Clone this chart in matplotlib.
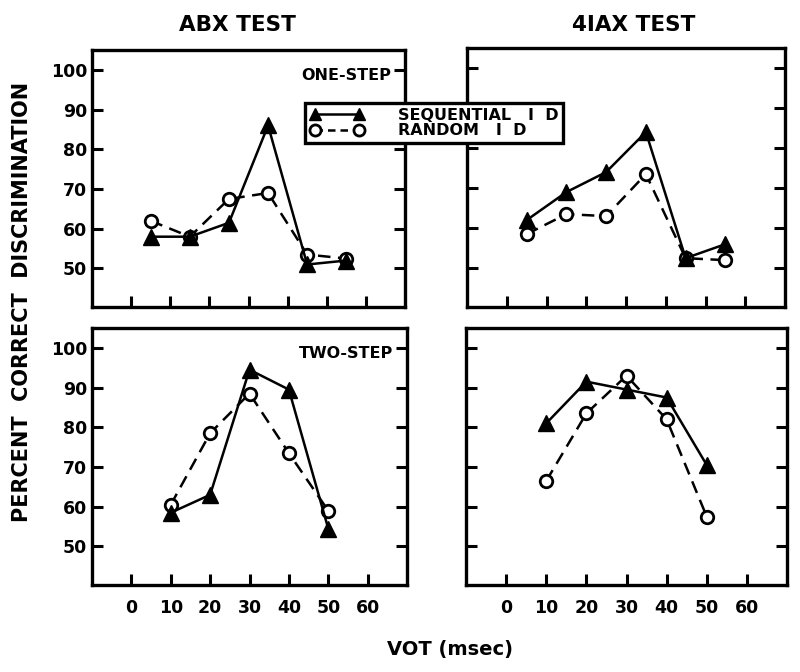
import matplotlib
matplotlib.use("Agg")
import matplotlib.pyplot as plt
from matplotlib.lines import Line2D

# ---- data ----
vot_one = [5, 15, 25, 35, 45, 55]
vot_two = [10, 20, 30, 40, 50]

abx_one_seq = [58, 58, 61.5, 86, 51, 52]
abx_one_rand = [62, 58, 67.5, 69, 53.5, 52.5]
iax_one_seq = [62, 69, 74, 84, 52.5, 56]
iax_one_rand = [58.5, 63.5, 63, 73.5, 52.5, 52]

abx_two_seq = [58.5, 63, 94.5, 89.5, 54.5]
abx_two_rand = [60.5, 78.5, 88.5, 73.5, 59]
iax_two_seq = [81, 91.5, 89.5, 87.5, 70.5]
iax_two_rand = [66.5, 83.5, 93, 82, 57.5]

x_ticks = [0, 10, 20, 30, 40, 50, 60]
y_ticks = [50, 60, 70, 80, 90, 100]
col_titles = ["ABX TEST", "4IAX TEST"]
row_labels = ["ONE-STEP", "TWO-STEP"]
legend_labels = ["SEQUENTIAL   I  D", "RANDOM   I  D"]

plt.rcParams['font.family'] = ['DejaVu Sans']
plt.rcParams['font.weight'] = 'bold'

fig = plt.figure(figsize=(8, 6.72), dpi=100)
W, H = 800.0, 672.0

def box(l, r, t, b):
    return [l / W, 1 - b / H, (r - l) / W, (b - t) / H]

axes = {
    (0, 0): fig.add_axes(box(92, 405, 50, 307)),
    (0, 1): fig.add_axes(box(467, 785, 48, 307)),
    (1, 0): fig.add_axes(box(92, 407, 328, 585)),
    (1, 1): fig.add_axes(box(466, 787, 328, 585)),
}

data = {
    (0, 0): (vot_one, abx_one_seq, abx_one_rand),
    (0, 1): (vot_one, iax_one_seq, iax_one_rand),
    (1, 0): (vot_two, abx_two_seq, abx_two_rand),
    (1, 1): (vot_two, iax_two_seq, iax_two_rand),
}

seq_style = dict(color='black', lw=1.8, marker='^', markersize=11,
                 markerfacecolor='black', markeredgecolor='black')
rand_style = dict(color='black', lw=1.8, ls=(0, (5, 3)), marker='o', markersize=9,
                  markerfacecolor='white', markeredgecolor='black', markeredgewidth=2)

for (r, c), ax in axes.items():
    x, s, rd = data[(r, c)]
    ax.plot(x, rd, zorder=3, **rand_style)
    ax.plot(x, s, zorder=4, **seq_style)
    ax.set_xlim(-10, 70)
    ax.set_ylim(40.3, 105)
    ax.set_xticks(x_ticks)
    ax.set_yticks(y_ticks)
    ax.tick_params(axis='both', direction='in', length=8, width=2.2,
                   labelsize=12.5, right=True)
    ax.tick_params(axis='x', pad=10)
    for sp in ax.spines.values():
        sp.set_linewidth(2.4)
    if r == 0:
        ax.set_xticklabels([])
    else:
        ax.set_xticklabels([str(v) for v in x_ticks], fontweight='bold')
    if c == 1:
        ax.set_yticklabels([])
    else:
        ax.set_yticklabels([str(v) for v in y_ticks], fontweight='bold')
        ax.text(0.955, 0.9, row_labels[r], transform=ax.transAxes, ha='right',
                va='center', fontsize=11.5, fontweight='bold')

fig.text(237 / W, 1 - 25 / H, col_titles[0], ha='center', va='center',
         fontsize=15.5, fontweight='bold')
fig.text(634 / W, 1 - 25 / H, col_titles[1], ha='center', va='center',
         fontsize=15.5, fontweight='bold')
fig.text(22 / W, 1 - 302 / H, "PERCENT  CORRECT  DISCRIMINATION", rotation=90,
         ha='center', va='center', fontsize=15, fontweight='bold')
fig.text(450 / W, 1 - 650 / H, "VOT (msec)", ha='center', va='center',
         fontsize=14, fontweight='bold')

leg_seq = dict(seq_style, markersize=9)
leg_rand = dict(rand_style, markersize=8, ls=(0, (3, 2)))
handles = [Line2D([], [], **leg_seq), Line2D([], [], **leg_rand)]
leg = fig.legend(handles, legend_labels, loc='upper left',
                 bbox_to_anchor=(305 / W, 1 - 103 / H), numpoints=2,
                 frameon=True, fancybox=False, framealpha=1, edgecolor='black',
                 prop={'weight': 'bold', 'size': 11.5}, handlelength=3.4,
                 borderpad=0.3, labelspacing=0.02, handletextpad=2.1,
                 borderaxespad=0)
leg.get_frame().set_linewidth(2.4)
leg.set_zorder(10)

fig.savefig("out.png", dpi=100, facecolor='white')
